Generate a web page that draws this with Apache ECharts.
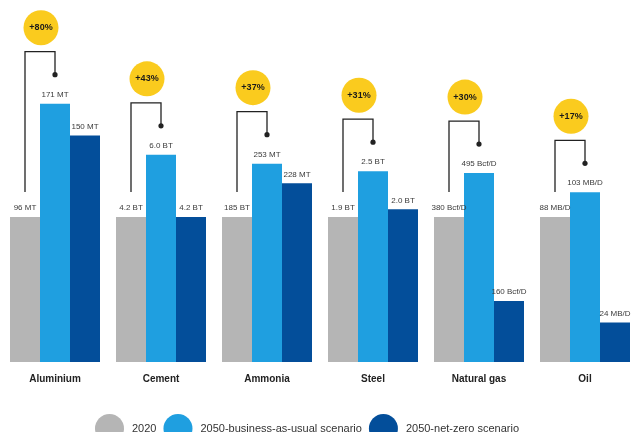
<!DOCTYPE html>
<html>
<head>
<meta charset="utf-8">
<script src="https://cdn.jsdelivr.net/npm/echarts@6/dist/echarts.min.js"></script>
<style>
  html, body { margin: 0; padding: 0; background: #ffffff; }
  #chart { width: 632px; height: 432px; }
</style>
</head>
<body>
<div id="chart"></div>
<script>
// Demand by commodity: today vs. two 2050 scenarios
const categories = ['Aluminium', 'Cement', 'Ammonia', 'Steel', 'Natural gas', 'Oil'];
const values2020 = [96, 4.2, 185, 1.9, 380, 88];
const valuesBau = [171, 6.0, 253, 2.5, 495, 103];
const valuesNetZero = [150, 4.2, 228, 2.0, 160, 24];
const units2020 = ['MT', 'BT', 'BT', 'BT', 'Bcf/D', 'MB/D'];
const units2050 = ['MT', 'BT', 'MT', 'BT', 'Bcf/D', 'MB/D'];
const growthLabels = ['+80%', '+43%', '+37%', '+31%', '+30%', '+17%'];
const seriesNames = ['2020', '2050-business-as-usual scenario', '2050-net-zero scenario'];

const FONT = '"Liberation Sans", Arial, Helvetica, sans-serif';
const COLORS = ['#B5B5B5', '#1F9FE0', '#034E9A'];
const BAR_W = 30;

// each commodity is drawn relative to its own 2020 level (2020 = 100)
const indexOf = (v, i) => v / values2020[i] * 100;
const fmt = v => (v < 10 ? v.toFixed(1) : String(v));

function barData(values, units) {
  return values.map((v, i) => ({ value: indexOf(v, i), raw: v, unit: units[i] }));
}

function barSeries(name, values, units, color) {
  return {
    name: name,
    type: 'bar',
    barWidth: BAR_W,
    barGap: '0%',
    itemStyle: { color: color },
    data: barData(values, units),
    label: {
      show: true,
      position: 'top',
      distance: 5,
      color: '#3a3a3a',
      fontSize: 8,
      fontFamily: FONT,
      formatter: p => fmt(p.data.raw) + ' ' + p.data.unit
    }
  };
}

const chart = echarts.init(document.getElementById('chart'), null, { renderer: 'canvas' });

chart.setOption({
  animation: false,
  backgroundColor: '#ffffff',
  textStyle: { fontFamily: FONT },
  // the plot runs a little past the right edge, so the last bar is cut off
  grid: { left: 2, width: 636, top: 72, bottom: 70, containLabel: false, outerBoundsMode: 'none' },
  legend: {
    data: seriesNames,
    selectedMode: false,
    icon: 'circle',
    itemWidth: 29,
    itemHeight: 29,
    itemGap: 7,
    left: 90,
    top: 409,
    textStyle: { color: '#333', fontSize: 11, fontFamily: FONT, padding: [0, 0, 0, 3] }
  },
  xAxis: {
    type: 'category',
    data: categories,
    axisLine: { show: false },
    axisTick: { show: false },
    axisLabel: { margin: 12, color: '#222', fontSize: 10, fontWeight: 'bold', fontFamily: FONT }
  },
  yAxis: {
    type: 'value',
    min: 0,
    max: 200,
    show: false,
    splitLine: { show: false }
  },
  series: [
    barSeries(seriesNames[0], values2020, units2020, COLORS[0]),
    barSeries(seriesNames[1], valuesBau, units2050, COLORS[1]),
    barSeries(seriesNames[2], valuesNetZero, units2050, COLORS[2]),
    {
      // growth bracket from the 2020 bar to the business-as-usual bar
      type: 'custom',
      z: 5,
      clip: false,
      silent: true,
      encode: { x: 0, y: 1 },
      data: categories.map((c, i) => [i, indexOf(values2020[i], i), indexOf(valuesBau[i], i)]),
      renderItem: function (params, api) {
        const i = api.value(0);
        const base = api.coord([i, api.value(1)]);
        const bau = api.coord([i, api.value(2)]);
        const xL = base[0] - BAR_W;
        const xR = bau[0];
        const top = bau[1] - 52;
        const dotY = top + 23;
        const bottom = base[1] - 25;
        const cx = (xL + xR) / 2 + 1;
        const cy = top - 24;
        return {
          type: 'group',
          children: [
            {
              type: 'polyline',
              shape: { points: [[xL, bottom], [xL, top], [xR, top], [xR, dotY]] },
              style: { stroke: '#222', lineWidth: 1.3, fill: null }
            },
            { type: 'circle', shape: { cx: xR, cy: dotY, r: 2.6 }, style: { fill: '#222' } },
            { type: 'circle', shape: { cx: cx, cy: cy, r: 17.5 }, style: { fill: '#FACB1E' } },
            {
              type: 'text',
              style: {
                x: cx, y: cy,
                text: growthLabels[i],
                align: 'center',
                verticalAlign: 'middle',
                fontSize: 9,
                fontWeight: 'bold',
                fontFamily: FONT,
                fill: '#1a1a1a'
              }
            }
          ]
        };
      }
    }
  ]
});
</script>
</body>
</html>
